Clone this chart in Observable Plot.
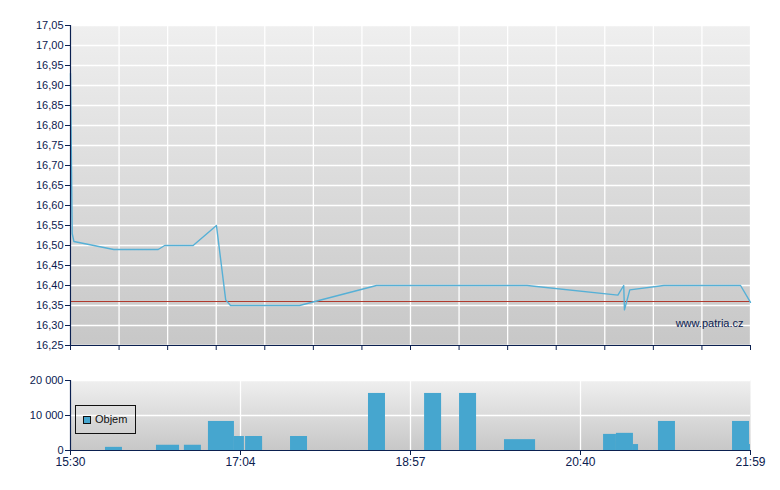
<!DOCTYPE html>
<html>
<head>
<meta charset="utf-8">
<script src="https://cdn.jsdelivr.net/npm/d3@7"></script>
<script src="https://cdn.jsdelivr.net/npm/@observablehq/plot@0.6"></script>
<style>
  html, body { margin: 0; padding: 0; background: #ffffff; }
  #wrap { position: relative; width: 780px; height: 490px; font-family: "Liberation Sans", Arial, sans-serif; }
  #price, #volume { position: absolute; left: 0; }
  #price { top: 0; }
  #volume { top: 360px; }
  #legend { position: absolute; left: 75px; top: 405px; width: 61px; height: 29px; box-sizing: border-box;
            border: 1px solid #111; font-size: 11px; color: #111; }
  #legend .sw { position: absolute; left: 7px; top: 10px; width: 8px; height: 8px; box-sizing: border-box;
                background: #46a6cf; border: 1px solid #111; }
  #legend .lb { position: absolute; left: 19px; top: 7px; }
</style>
</head>
<body>
<div id="wrap">
  <div id="price"></div>
  <div id="volume"></div>
  <div id="legend"><div class="sw"></div><div class="lb">Objem</div></div>
</div>
<script>
// ---- data ----
// x position is a trade-index axis (0..28), labelled by clock times
const timeTickPos = [0, 7, 14, 21, 28];
const timeTickLabels = ["15:30", "17:04", "18:57", "20:40", "21:59"];
const priceGridX = [0, 2, 4, 6, 8, 10, 12, 14, 16, 18, 20, 22, 24, 26, 28];
const priceTicks = [16.25, 16.30, 16.35, 16.40, 16.45, 16.50, 16.55, 16.60, 16.65, 16.70, 16.75, 16.80, 16.85, 16.90, 16.95, 17.00, 17.05];

const priceX = [0, 0.07, 0.14, 1.78, 3.61, 3.88, 5.05, 6.01, 6.39, 6.59, 9.43, 12.60, 18.80, 22.54, 22.78, 22.81, 23.03, 24.43, 27.59, 28];
const priceY = [16.93, 16.53, 16.51, 16.49, 16.49, 16.50, 16.50, 16.55, 16.364, 16.35, 16.35, 16.40, 16.40, 16.376, 16.40, 16.339, 16.389, 16.40, 16.40, 16.358];
const prevClose = 16.36;

const volX1 = [1.44, 3.54, 4.69, 5.68, 6.75, 7.21, 9.06, 12.27, 14.58, 16.02, 17.87, 21.95, 22.48, 23.18, 24.21, 27.26, 27.96];
const volX2 = [2.14, 4.49, 5.39, 6.75, 7.16, 7.91, 9.76, 12.97, 15.28, 16.72, 19.15, 22.48, 23.18, 23.39, 24.91, 27.96, 28.00];
const volValues = [900, 1500, 1500, 8300, 4000, 4000, 4000, 16300, 16300, 16300, 3100, 4600, 4900, 1700, 8300, 8300, 1700];
const volTicks = [0, 10000, 20000];

// ---- style ----
const navy = "#0b2050";
const lineColor = "#56b0d6";
const barColor = "#46a6cf";
const refColor = "#b03a2e";

const priceData = priceX.map((x, i) => ({x, y: priceY[i]}));
const volData = volX1.map((x1, i) => ({x1, x2: volX2[i], v: volValues[i]}));
const fmtPrice = d => d.toFixed(2).replace(".", ",");
const fmtVol = d => d3.format(",")(d).replace(/,/g, " ");

function addGradient(svg, id) {
  const defs = d3.select(svg).insert("defs", ":first-child");
  const g = defs.append("linearGradient").attr("id", id).attr("x1", 0).attr("y1", 0).attr("x2", 0).attr("y2", 1);
  g.append("stop").attr("offset", "0%").attr("stop-color", "#efefef");
  g.append("stop").attr("offset", "100%").attr("stop-color", "#c7c7c7");
}

const commonStyle = {color: navy, fontFamily: "'Liberation Sans', Arial, sans-serif", fontSize: "11px", background: "transparent", overflow: "visible"};

const price = Plot.plot({
  width: 780, height: 360,
  marginTop: 25, marginLeft: 70, marginRight: 30, marginBottom: 15,
  style: commonStyle,
  x: {domain: [0, 28], axis: null, label: null},
  y: {domain: [16.25, 17.05], axis: null, label: null},
  marks: [
    Plot.frame({fill: "url(#bgPrice)", stroke: null}),
    Plot.gridX(priceGridX, {stroke: "white", strokeOpacity: 1, strokeWidth: 1.3}),
    Plot.gridY(priceTicks, {stroke: "white", strokeOpacity: 1, strokeWidth: 1.3}),
    Plot.ruleY([prevClose], {stroke: refColor, strokeWidth: 1}),
    Plot.line(priceData, {x: "x", y: "y", stroke: lineColor, strokeWidth: 1.4}),
    Plot.text(["www.patria.cz"], {frameAnchor: "bottom-right", textAnchor: "end", dx: -7, dy: -19, fill: navy, fontSize: 11}),
    Plot.ruleX([0], {stroke: navy, strokeWidth: 1.2}),
    Plot.ruleY([16.25], {stroke: navy, strokeWidth: 1.2}),
    Plot.axisY({ticks: priceTicks, tickFormat: fmtPrice, tickSize: 5, tickPadding: 2, label: null}),
    Plot.axisX({ticks: priceGridX, tickFormat: () => "", tickSize: 5, label: null})
  ]
});
addGradient(price, "bgPrice");
document.getElementById("price").append(price);

const volume = Plot.plot({
  width: 780, height: 130,
  marginTop: 20, marginLeft: 70, marginRight: 30, marginBottom: 40,
  style: commonStyle,
  x: {domain: [0, 28], axis: null, label: null},
  y: {domain: [0, 20000], axis: null, label: null},
  marks: [
    Plot.frame({fill: "url(#bgVol)", stroke: null}),
    Plot.gridX([7, 14, 21], {stroke: "white", strokeOpacity: 1, strokeWidth: 1.3}),
    Plot.gridY([10000, 20000], {stroke: "white", strokeOpacity: 1, strokeWidth: 1.3}),
    Plot.rectY(volData, {x1: "x1", x2: "x2", y: "v", fill: barColor}),
    Plot.ruleX([0], {stroke: navy, strokeWidth: 1.2}),
    Plot.ruleY([0], {stroke: navy, strokeWidth: 1.2}),
    Plot.axisY({ticks: volTicks, tickFormat: fmtVol, tickSize: 5, tickPadding: 2, label: null}),
    Plot.axisX({ticks: timeTickPos, tickFormat: d => timeTickLabels[timeTickPos.indexOf(d)], tickSize: 5, tickPadding: 2, fontSize: 12, label: null})
  ]
});
addGradient(volume, "bgVol");
document.getElementById("volume").append(volume);
</script>
</body>
</html>
